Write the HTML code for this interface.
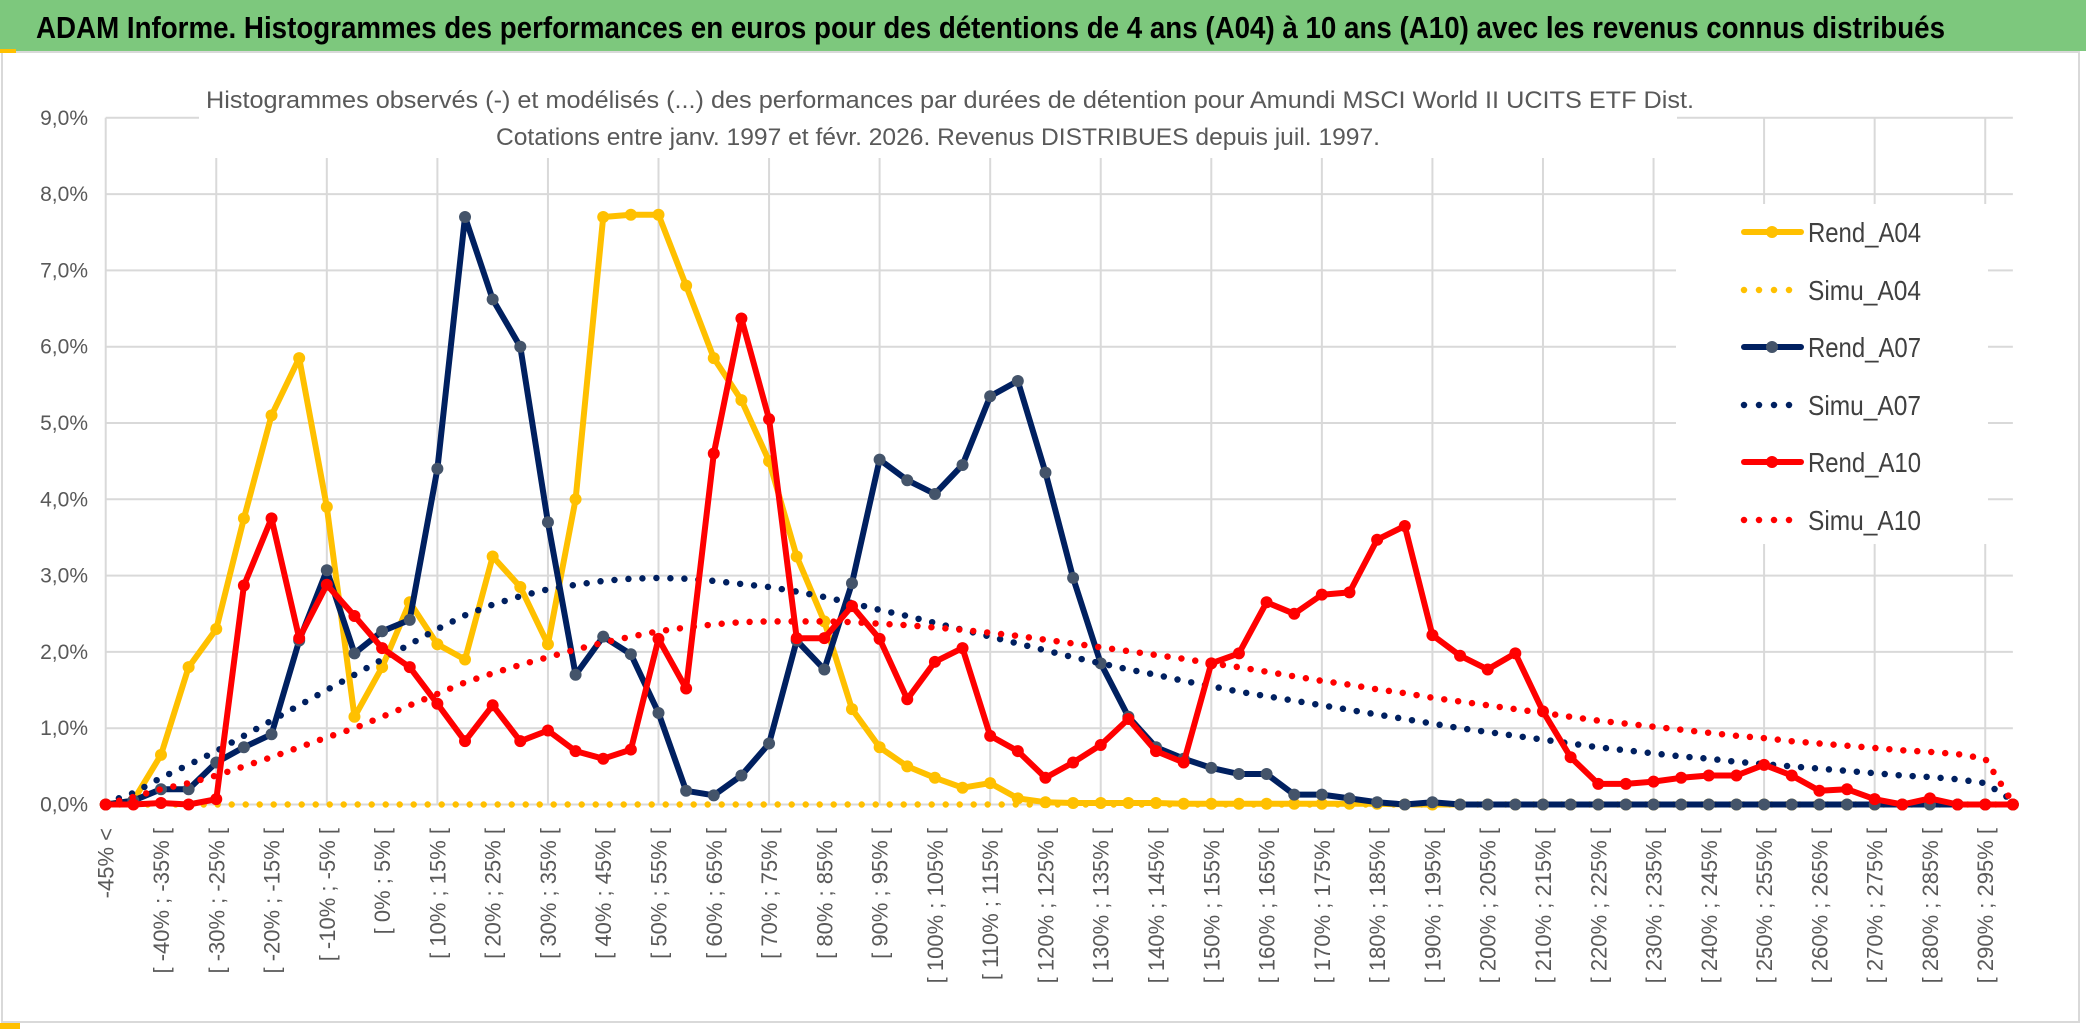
<!DOCTYPE html>
<html><head><meta charset="utf-8"><style>
html,body{margin:0;padding:0;background:#fff;}
svg{display:block;font-family:"Liberation Sans Narrow","Liberation Sans",sans-serif;}
</style></head><body>
<svg id="chart" width="2086" height="1031" viewBox="0 0 2086 1031" xmlns="http://www.w3.org/2000/svg">
<rect x="0" y="0" width="2086" height="51" fill="#7dc87d"/>
<text x="36" y="38" font-size="31" font-weight="bold" fill="#000" textLength="1909" lengthAdjust="spacingAndGlyphs">ADAM Informe. Histogrammes des performances en euros pour des détentions de 4 ans (A04) à 10 ans (A10) avec les revenus connus distribués</text>
<rect x="2" y="52" width="2077" height="970" fill="#fff" stroke="#d9d9d9" stroke-width="2"/>
<rect x="0" y="49" width="16" height="4" fill="#ffc000"/>
<rect x="0" y="1023" width="20" height="6" fill="#ffc000"/>
<g id="grid"></g>
<rect x="199" y="60" width="1478" height="98" fill="#fff"/>
<text x="950" y="108" font-size="24" fill="#595959" text-anchor="middle" textLength="1488" lengthAdjust="spacingAndGlyphs">Histogrammes observés (-) et modélisés (...) des performances par durées de détention pour Amundi MSCI World II UCITS ETF Dist.</text>
<text x="938" y="145" font-size="24" fill="#595959" text-anchor="middle" textLength="884" lengthAdjust="spacingAndGlyphs">Cotations entre janv. 1997 et févr. 2026. Revenus DISTRIBUES depuis juil. 1997.</text>
<g id="yaxis"></g>
<g id="xaxis"></g>
<g id="series"></g>
<rect x="1676" y="204" width="312" height="340" fill="#fff"/>
<g id="legend"></g>
</svg>
<script>
const categories = [];
categories.push('-45% <');
for (let lo = -45; lo <= 295; lo += 5) categories.push('[ ' + lo + '% ; ' + (lo + 5) + '% [');
const yTicks = [0,1,2,3,4,5,6,7,8,9];
const yTickLabels = ['0,0%','1,0%','2,0%','3,0%','4,0%','5,0%','6,0%','7,0%','8,0%','9,0%'];
const rendA04 = [0,0.05,0.65,1.8,2.3,3.75,5.1,5.85,3.9,1.15,1.8,2.65,2.1,1.9,3.25,2.85,2.1,4.0,7.7,7.73,7.73,6.8,5.85,5.3,4.5,3.25,2.4,1.25,0.75,0.5,0.35,0.22,0.28,0.08,0.03,0.02,0.02,0.02,0.02,0.01,0.01,0.01,0.01,0.01,0.01,0.01,0.01,0,0,0,0,0,0,0,0,0,0,0,0,0,0,0,0,0,0,0,0,0,0,0];
const simuA04 = [0,0,0,0,0,0,0,0,0,0,0,0,0,0,0,0,0,0,0,0,0,0,0,0,0,0,0,0,0,0,0,0,0,0,0,0,0,0,0,0,0,0,0,0,0,0,0,0,0,0,0,0,0,0,0,0,0,0,0,0,0,0,0,0,0,0,0,0,0,0];
const rendA07 = [0,0.05,0.2,0.2,0.55,0.75,0.92,2.15,3.07,1.98,2.27,2.42,4.4,7.7,6.62,6.0,3.7,1.7,2.2,1.97,1.2,0.18,0.12,0.38,0.8,2.15,1.77,2.9,4.52,4.25,4.07,4.45,5.35,5.55,4.35,2.97,1.85,1.15,0.75,0.6,0.48,0.4,0.4,0.13,0.13,0.08,0.03,0,0.03,0,0,0,0,0,0,0,0,0,0,0,0,0,0,0,0,0,0,0,0,0];
const simuA07 = [0.02,0.15,0.35,0.52,0.7,0.9,1.1,1.3,1.5,1.7,1.9,2.1,2.3,2.48,2.62,2.73,2.82,2.88,2.93,2.96,2.97,2.96,2.93,2.89,2.85,2.79,2.72,2.64,2.55,2.47,2.38,2.29,2.2,2.11,2.02,1.93,1.85,1.77,1.7,1.62,1.55,1.48,1.42,1.36,1.3,1.24,1.18,1.12,1.06,1.0,0.95,0.9,0.85,0.8,0.75,0.71,0.67,0.63,0.6,0.56,0.53,0.5,0.47,0.44,0.41,0.38,0.36,0.33,0.28,0.05];
const rendA10 = [0,0,0.02,0,0.07,2.87,3.75,2.18,2.88,2.47,2.05,1.8,1.32,0.83,1.3,0.83,0.97,0.7,0.6,0.72,2.17,1.52,4.6,6.37,5.05,2.18,2.18,2.6,2.17,1.38,1.87,2.05,0.9,0.7,0.35,0.55,0.78,1.12,0.7,0.55,1.85,1.98,2.65,2.5,2.75,2.78,3.47,3.65,2.22,1.95,1.77,1.98,1.22,0.62,0.27,0.27,0.3,0.35,0.38,0.38,0.52,0.38,0.18,0.2,0.07,0,0.08,0,0,0];
const simuA10 = [0,0.1,0.2,0.28,0.38,0.5,0.62,0.75,0.88,1.0,1.15,1.3,1.45,1.6,1.72,1.83,1.93,2.03,2.12,2.2,2.27,2.32,2.36,2.39,2.4,2.4,2.4,2.39,2.37,2.35,2.32,2.29,2.25,2.21,2.16,2.11,2.06,2.01,1.96,1.91,1.85,1.8,1.74,1.68,1.62,1.57,1.51,1.46,1.4,1.35,1.3,1.25,1.2,1.15,1.1,1.06,1.02,0.98,0.94,0.9,0.87,0.83,0.8,0.77,0.74,0.71,0.69,0.66,0.6,0.02];
const seriesNames = ['Rend_A04','Simu_A04','Rend_A07','Simu_A07','Rend_A10','Simu_A10'];

const NS = 'http://www.w3.org/2000/svg';
const X0 = 105.7, STEP = 27.64, Y0 = 804.5, YPER = 76.3;
function xPos(i){ return X0 + i * STEP; }
function yPos(v){ return Y0 - v * YPER; }
function mk(tag, attrs, parent){ const e = document.createElementNS(NS, tag); for (const k in attrs) e.setAttribute(k, attrs[k]); parent.appendChild(e); return e; }

const grid = document.getElementById('grid');
const xEnd = xPos(categories.length - 1);
yTicks.forEach(function(t){
  const l = mk('line', {x1: X0, x2: xEnd, y1: yPos(t), y2: yPos(t), stroke: '#d9d9d9', 'stroke-width': 2}, grid);
  
  
});
for (let i = 0; i < categories.length; i += 4) {
  const l = mk('line', {x1: xPos(i), x2: xPos(i), y1: yPos(9), y2: Y0, stroke: '#d9d9d9', 'stroke-width': 2}, grid);
  
  
}

const yaxis = document.getElementById('yaxis');
yTicks.forEach(function(t, k){
  const tx = mk('text', {x: 88, y: yPos(t) + 7, 'font-size': 21, fill: '#595959', 'text-anchor': 'end'}, yaxis);
  tx.textContent = yTickLabels[k];
  
  
});

const xaxis = document.getElementById('xaxis');
categories.forEach(function(c, i){
  if (i % 2 !== 0) return;
  const x = xPos(i) + 8, y = 828;
  const tx = mk('text', {x: x, y: y, 'font-size': 22, fill: '#595959', 'text-anchor': 'end', transform: 'rotate(-90 ' + x + ' ' + y + ')'}, xaxis);
  tx.textContent = c;
  
  
});

const sg = document.getElementById('series');
function drawSolid(vals, color, markerFill, name){
  const g = mk('g', {}, sg);
  
  
  const pts = vals.map(function(v, i){ return xPos(i).toFixed(1) + ',' + yPos(v).toFixed(1); }).join(' ');
  mk('polyline', {points: pts, fill: 'none', stroke: color, 'stroke-width': 6, 'stroke-linejoin': 'round'}, g);
  vals.forEach(function(v, i){
    const c = mk('circle', {cx: xPos(i), cy: yPos(v), r: 6, fill: markerFill}, g);
    
    
  });
}
function drawDotted(vals, color, name){
  const pts = vals.map(function(v, i){ return xPos(i).toFixed(1) + ',' + yPos(v).toFixed(1); }).join(' ');
  const p = mk('polyline', {points: pts, fill: 'none', stroke: color, 'stroke-width': 6.5, 'stroke-linecap': 'round', 'stroke-dasharray': '0 14'}, sg);
  
  
}
drawSolid(rendA04, '#ffc000', '#ffc000', 'series-rend-a04');
drawDotted(simuA04, '#ffc000', 'series-simu-a04');
drawSolid(rendA07, '#002060', '#44546a', 'series-rend-a07');
drawDotted(simuA07, '#002060', 'series-simu-a07');
drawSolid(rendA10, '#ff0000', '#ff0000', 'series-rend-a10');
drawDotted(simuA10, '#ff0000', 'series-simu-a10');

const legend = document.getElementById('legend');
const legColors = ['#ffc000','#ffc000','#002060','#002060','#ff0000','#ff0000'];
const legMarker = ['#ffc000','','#44546a','','#ff0000',''];
const legY = [232, 290, 347, 405, 462, 520];
seriesNames.forEach(function(n, k){
  const g = mk('g', {}, legend);
  
  
  const y = legY[k];
  if (k % 2 === 0) {
    mk('line', {x1: 1744, x2: 1801, y1: y, y2: y, stroke: legColors[k], 'stroke-width': 6, 'stroke-linecap': 'round'}, g);
    mk('circle', {cx: 1772, cy: y, r: 6, fill: legMarker[k]}, g);
  } else {
    mk('line', {x1: 1744, x2: 1790, y1: y, y2: y, stroke: legColors[k], 'stroke-width': 6.5, 'stroke-linecap': 'round', 'stroke-dasharray': '0 15'}, g);
  }
  const t = mk('text', {x: 1808, y: y + 10, 'font-size': 28, fill: '#404040', textLength: 113, lengthAdjust: 'spacingAndGlyphs'}, g);
  t.textContent = n;
});
</script>
</body></html>
